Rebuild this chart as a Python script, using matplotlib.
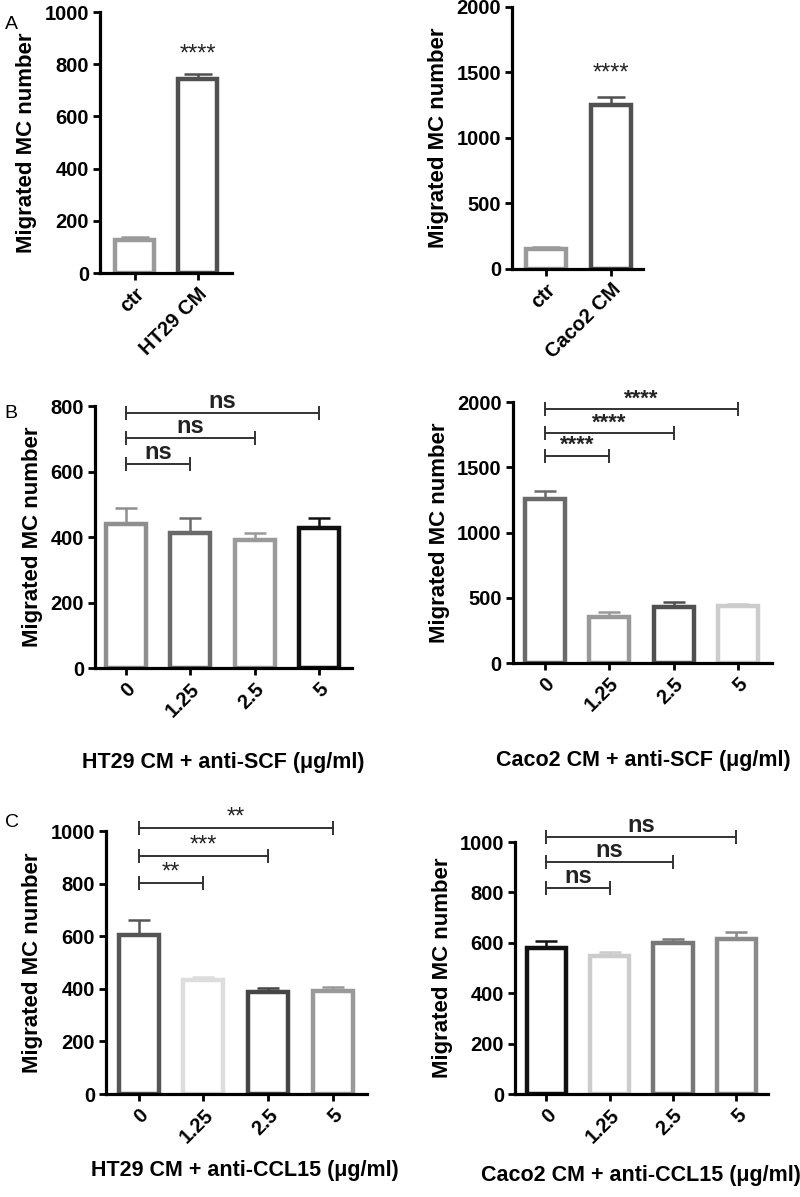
import matplotlib
matplotlib.use('Agg')
import matplotlib.pyplot as plt

plt.rcParams['font.family'] = ['Liberation Sans', 'DejaVu Sans']

# panel A
a1_labels = ['ctr', 'HT29 CM']
a1_vals = [126, 743]
a1_err = [14, 19]
a1_colors = ['#9a9a9a', '#505050']

a2_labels = ['ctr', 'Caco2 CM']
a2_vals = [153, 1252]
a2_err = [17, 61]
a2_colors = ['#9a9a9a', '#505050']

# panel B / C doses
doses = ['0', '1.25', '2.5', '5']

b1_vals = [441, 411, 392, 429]
b1_err = [49, 48, 21, 30]
b1_colors = ['#8f8f8f', '#6a6a6a', '#9a9a9a', '#111111']
b1_sig = ['ns', 'ns', 'ns']
b1_sig_y = [624, 703, 779]

b2_vals = [1256, 352, 432, 435]
b2_err = [61, 38, 35, 20]
b2_colors = ['#6a6a6a', '#999999', '#505050', '#cccccc']
b2_sig = ['****', '****', '****']
b2_sig_y = [1585, 1761, 1945]

c1_vals = [605, 433, 388, 390]
c1_err = [57, 12, 15, 17]
c1_colors = ['#555555', '#dddddd', '#454545', '#999999']
c1_sig = ['**', '***', '**']
c1_sig_y = [802, 905, 1011]

c2_vals = [579, 548, 599, 615]
c2_err = [28, 15, 16, 28]
c2_colors = ['#111111', '#cccccc', '#777777', '#8a8a8a']
c2_sig = ['ns', 'ns', 'ns']
c2_sig_y = [817, 921, 1020]


def draw_bars(ax, labels, vals, err, colors, ymax, ystep, xlim, capsize):
    x = list(range(len(vals)))
    ax.bar(x, vals, width=0.62, color='white', edgecolor=colors, linewidth=3.2, zorder=2)
    for i in x:
        ax.errorbar(i, vals[i], yerr=[[0], [err[i]]], color=colors[i], capsize=capsize,
                    capthick=1.8, elinewidth=1.8, zorder=1)
    ax.set_xlim(*xlim)
    ax.set_ylim(0, ymax)
    ax.set_yticks(range(0, ymax + 1, ystep))
    ax.set_xticks(x)
    ax.set_xticklabels(labels, rotation=45, ha='right', va='top', rotation_mode='anchor',
                       fontsize=14.5, fontweight='bold')
    for t in ax.get_yticklabels():
        t.set_fontsize(14.5)
        t.set_fontweight('bold')
    ax.spines['top'].set_visible(False)
    ax.spines['right'].set_visible(False)
    ax.spines['left'].set_linewidth(2.3)
    ax.spines['bottom'].set_linewidth(2.3)
    ax.tick_params(axis='both', width=2, length=5, pad=3)
    ax.set_ylabel('Migrated MC number', fontsize=16, fontweight='bold', labelpad=5)


def draw_sig(ax, heights, texts, bold, fs):
    for k, (h, s) in enumerate(zip(heights, texts)):
        x1 = k + 1
        ax.plot([0, x1], [h, h], color='#333333', lw=1.4, marker='|', markersize=10,
                markeredgewidth=1.4, clip_on=False)
        ax.text(x1 / 2, h, s, ha='center', va='bottom', fontsize=fs,
                fontweight='bold' if bold else 'normal', color='#222222', clip_on=False)


fig = plt.figure(figsize=(8, 11.97), dpi=100)

ax = fig.add_axes([0.125, 0.7719, 0.165, 0.218])
draw_bars(ax, a1_labels, a1_vals, a1_err, a1_colors, 1000, 200, (-0.55, 1.54), 10)
ax.text(1, 795, '****', ha='center', va='bottom', fontsize=17, color='#222222')

ax = fig.add_axes([0.64, 0.7753, 0.164, 0.2189])
draw_bars(ax, a2_labels, a2_vals, a2_err, a2_colors, 2000, 500, (-0.52, 1.49), 10)
ax.text(1, 1410, '****', ha='center', va='bottom', fontsize=17, color='#222222')

ax = fig.add_axes([0.1188, 0.4419, 0.321, 0.2189])
draw_bars(ax, doses, b1_vals, b1_err, b1_colors, 800, 200, (-0.48, 3.51), 8)
draw_sig(ax, b1_sig_y, b1_sig, True, 17)
fig.text(0.279, 0.3634, 'HT29 CM + anti-SCF (\u03bcg/ml)', ha='center', va='center',
         fontsize=15.5, fontweight='bold')

ax = fig.add_axes([0.641, 0.4461, 0.324, 0.218])
draw_bars(ax, doses, b2_vals, b2_err, b2_colors, 2000, 500, (-0.5, 3.53), 8)
draw_sig(ax, b2_sig_y, b2_sig, True, 16)
fig.text(0.804, 0.365, 'Caco2 CM + anti-SCF (\u03bcg/ml)', ha='center', va='center',
         fontsize=15.5, fontweight='bold')

ax = fig.add_axes([0.1325, 0.086, 0.326, 0.2197])
draw_bars(ax, doses, c1_vals, c1_err, c1_colors, 1000, 200, (-0.51, 3.53), 8)
draw_sig(ax, c1_sig_y, c1_sig, False, 17)
fig.text(0.306, 0.022, 'HT29 CM + anti-CCL15 (\u03bcg/ml)', ha='center', va='center',
         fontsize=15.5, fontweight='bold')

ax = fig.add_axes([0.644, 0.086, 0.316, 0.2105])
draw_bars(ax, doses, c2_vals, c2_err, c2_colors, 1000, 200, (-0.49, 3.5), 8)
draw_sig(ax, c2_sig_y, c2_sig, True, 17)
fig.text(0.801, 0.018, 'Caco2 CM + anti-CCL15 (\u03bcg/ml)', ha='center', va='center',
         fontsize=15.5, fontweight='bold')

fig.text(0.006, 0.987, 'A', fontsize=14, va='top')
fig.text(0.006, 0.662, 'B', fontsize=14, va='top')
fig.text(0.006, 0.320, 'C', fontsize=14, va='top')

fig.savefig('out.png', dpi=100)
